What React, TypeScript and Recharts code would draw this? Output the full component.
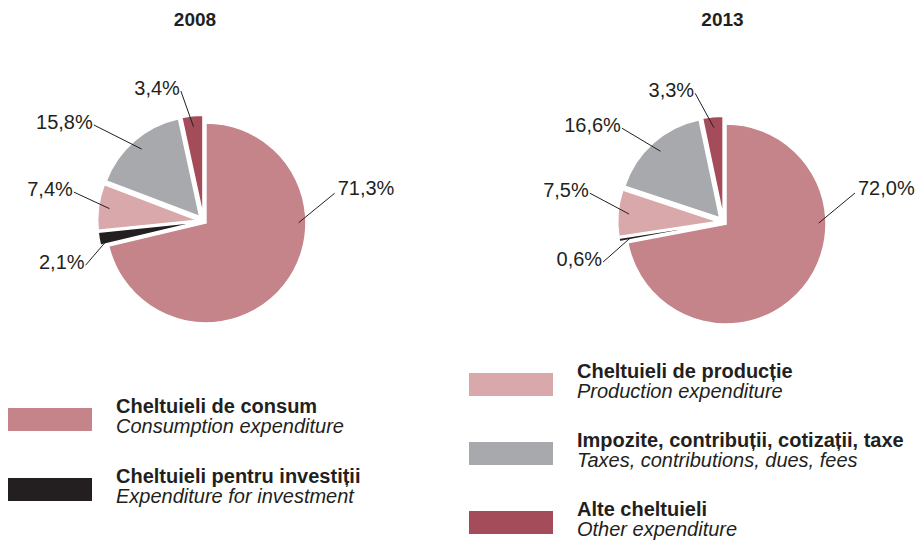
import React from 'react';
import { PieChart, Pie, Sector } from 'recharts';

const CATEGORIES = [
  'Cheltuieli de consum',
  'Cheltuieli pentru investiții',
  'Cheltuieli de producție',
  'Impozite, contribuții, cotizații, taxe',
  'Alte cheltuieli',
];
const CATEGORIES_EN = [
  'Consumption expenditure',
  'Expenditure for investment',
  'Production expenditure',
  'Taxes, contributions, dues, fees',
  'Other expenditure',
];
const YEARS = ['2008', '2013'];
const VALUES_2008 = [71.3, 2.1, 7.4, 15.8, 3.4];
const VALUES_2013 = [72.0, 0.6, 7.5, 16.6, 3.3];

const COLORS = ['#c5848a', '#231f20', '#d9a8aa', '#a7a9ac', '#a54c5b'];
const TEXT = '#231f20';
const FONT = '"Liberation Sans", Arial, Helvetica, sans-serif';
const RADIUS = 100;
const EXPLODE = [3, 6, 6, 6, 6];

// leader lines: inner point at the slice's mid angle (or inAngle), outer end in polar coords
const LEADERS_2008 = [
  { inAngle: -1, outAngle: 12, outR: 134 },
  { outAngle: 200.5, outR: 126 },
  { outAngle: 167.4, outR: 133 },
  { outAngle: 138.8, outR: 146 },
  { outAngle: 99.9, outR: 132 },
];
const LEADERS_2013 = [
  { inAngle: -0.6, outAngle: 12.5, outR: 134.5 },
  { outAngle: 198.3, outR: 127 },
  { outAngle: 167.8, outR: 137 },
  { outAngle: 137.3, outR: 138.5 },
  { outAngle: 102.5, outR: 132 },
];

const RAD = Math.PI / 180;
const polar = (cx: number, cy: number, r: number, angle: number) => ({
  x: cx + r * Math.cos(-angle * RAD),
  y: cy + r * Math.sin(-angle * RAD),
});

const fmt = (v: number) => v.toFixed(1).replace('.', ',') + '%';

const makeData = (values: number[]) =>
  CATEGORIES.map((name, i) => ({ name, value: values[i] }));

const renderSlice = (leaders: any[]) => (props: any) => {
  const { cx, cy, midAngle, outerRadius, startAngle, endAngle, index, value } = props;
  const off = polar(cx, cy, EXPLODE[index], midAngle);
  const lay = leaders[index];
  const inner = polar(cx, cy, outerRadius * 0.95, lay.inAngle ?? midAngle);
  const outer = polar(cx, cy, lay.outR, lay.outAngle);
  const right = outer.x > cx;
  return (
    <g>
      <Sector
        cx={off.x}
        cy={off.y}
        innerRadius={0}
        outerRadius={outerRadius}
        startAngle={startAngle}
        endAngle={endAngle}
        fill={COLORS[index]}
        stroke="#ffffff"
        strokeWidth={1.5}
      />
      <line x1={inner.x} y1={inner.y} x2={outer.x} y2={outer.y} stroke={TEXT} strokeWidth={1} />
      <text
        x={right ? outer.x + 3 : outer.x - 1}
        y={right ? outer.y + 2 : outer.y + 4}
        textAnchor={right ? 'start' : 'end'}
        fill={TEXT}
        fontSize={20}
        fontFamily={FONT}
      >
        {fmt(value)}
      </text>
    </g>
  );
};

const LegendItem = ({ i, left, top }: { i: number; left: number; top: number }) => (
  <div style={{ position: 'absolute', left, top }}>
    <div
      style={{
        position: 'absolute',
        left: 0,
        top: 12,
        width: 84,
        height: 23,
        background: COLORS[i],
      }}
    />
    <div style={{ position: 'absolute', left: 108, top: 0, whiteSpace: 'nowrap', lineHeight: '20px', fontSize: 20, color: TEXT }}>
      <div style={{ fontWeight: 'bold' }}>{CATEGORIES[i]}</div>
      <div style={{ fontStyle: 'italic' }}>{CATEGORIES_EN[i]}</div>
    </div>
  </div>
);

export default function App() {
  return (
    <div
      style={{
        position: 'absolute',
        left: 0,
        top: 0,
        width: 921,
        height: 540,
        background: '#ffffff',
        fontFamily: FONT,
      }}
    >
      <PieChart width={921} height={540} margin={{ top: 0, right: 0, bottom: 0, left: 0 }}>
        <Pie
          data={makeData(VALUES_2008)}
          dataKey="value"
          cx={203.6}
          cy={221.1}
          outerRadius={RADIUS}
          startAngle={90}
          endAngle={-270}
          fill="none"
          stroke="none"
          label={renderSlice(LEADERS_2008)}
          labelLine={false}
          isAnimationActive={false}
        />
        <Pie
          data={makeData(VALUES_2013)}
          dataKey="value"
          cx={723.7}
          cy={222.1}
          outerRadius={RADIUS}
          startAngle={90}
          endAngle={-270}
          fill="none"
          stroke="none"
          label={renderSlice(LEADERS_2013)}
          labelLine={false}
          isAnimationActive={false}
        />
      </PieChart>

      {YEARS.map((y, k) => (
        <div
          key={y}
          style={{
            position: 'absolute',
            left: k === 0 ? 145 : 672.5,
            width: 100,
            top: 10,
            textAlign: 'center',
            fontWeight: 'bold',
            fontSize: 19,
            lineHeight: '19px',
            color: TEXT,
          }}
        >
          {y}
        </div>
      ))}

      <LegendItem i={0} left={8} top={396} />
      <LegendItem i={1} left={8} top={466} />
      <LegendItem i={2} left={469} top={361} />
      <LegendItem i={3} left={469} top={430} />
      <LegendItem i={4} left={469} top={499} />
    </div>
  );
}
